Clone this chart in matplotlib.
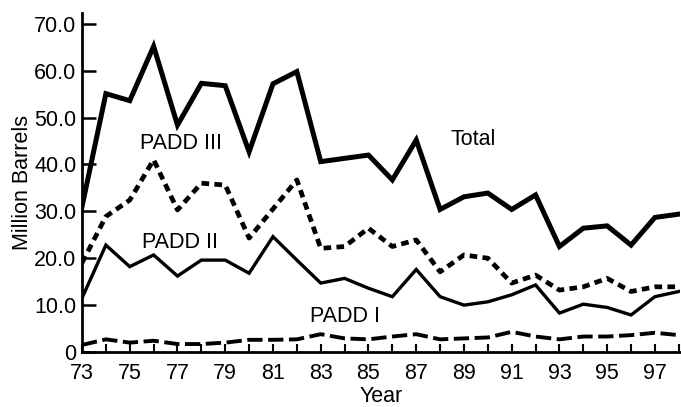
import matplotlib
matplotlib.use("Agg")
import matplotlib.pyplot as plt

plt.rcParams['font.family'] = ['Liberation Sans', 'DejaVu Sans']
plt.rcParams['lines.scale_dashes'] = False

years = list(range(1973, 1999))
total = [31.0, 55.1, 53.6, 65.2, 48.4, 57.3, 56.8, 42.7, 57.2, 59.8,
         40.6, 41.3, 42.0, 36.7, 45.2, 30.4, 33.1, 33.9, 30.4, 33.5,
         22.5, 26.4, 26.9, 22.8, 28.7, 29.4]
padd3 = [19.0, 28.9, 32.4, 41.0, 30.3, 36.0, 35.6, 24.3, 30.5, 36.7,
         22.1, 22.5, 26.4, 22.5, 23.9, 17.1, 20.7, 20.0, 14.7, 16.4,
         13.2, 13.9, 15.7, 12.9, 13.9, 13.9]
padd2 = [11.5, 22.8, 18.2, 20.7, 16.2, 19.6, 19.6, 16.8, 24.6, 19.6,
         14.7, 15.7, 13.6, 11.8, 17.6, 11.8, 10.0, 10.7, 12.2, 14.3,
         8.3, 10.2, 9.5, 7.9, 11.8, 12.9]
padd1 = [1.5, 2.7, 2.0, 2.4, 1.7, 1.7, 2.0, 2.6, 2.6, 2.7,
         3.8, 2.9, 2.7, 3.3, 3.8, 2.7, 2.9, 3.1, 4.3, 3.3,
         2.7, 3.3, 3.3, 3.6, 4.1, 3.6]

yticks = [0, 10, 20, 30, 40, 50, 60, 70]
ytick_labels = ["0", "10.0", "20.0", "30.0", "40.0", "50.0", "60.0", "70.0"]
xticks = list(range(1973, 1999, 2))
xtick_labels = ["73", "75", "77", "79", "81", "83", "85", "87", "89", "91", "93", "95", "97"]

FS = 15.5

fig = plt.figure(figsize=(6.81, 4.07), dpi=100)
ax = fig.add_axes([82/681, 55/407, 598/681, 339/407])

ax.plot(years, total, color='black', lw=3.6, solid_joinstyle='miter')
ax.plot(years, padd3, color='black', lw=3.4, linestyle=(0, (5.5, 3.8)), dash_capstyle='butt')
ax.plot(years, padd2, color='black', lw=2.4, solid_joinstyle='miter')
ax.plot(years, padd1, color='black', lw=2.8, linestyle=(0, (11, 4)), dash_capstyle='butt')

ax.set_xlim(1973, 1998.05)
ax.set_ylim(0, 72.3)

for s in ['top', 'right']:
    ax.spines[s].set_visible(False)
for s in ['left', 'bottom']:
    ax.spines[s].set_linewidth(2.0)

ax.set_yticks(yticks)
ax.set_yticklabels(ytick_labels)
ax.set_xticks(xticks)
ax.set_xticklabels(xtick_labels)
ax.set_xticks(years, minor=True)
ax.tick_params(axis='y', direction='in', length=10, width=1.8, pad=4, labelsize=FS)
ax.tick_params(axis='x', which='major', direction='in', length=6, width=1.5, pad=8, labelsize=FS)
ax.tick_params(axis='x', which='minor', direction='in', length=6, width=1.5)

ax.set_xlabel("Year", fontsize=FS, labelpad=1)
ax.set_ylabel("Million Barrels", fontsize=FS, labelpad=1)

ax.text(1977.16, 44.4, "PADD III", fontsize=FS, ha='center', va='center')
ax.text(1989.39, 45.3, "Total", fontsize=FS, ha='center', va='center')
ax.text(1977.12, 23.3, "PADD II", fontsize=FS, ha='center', va='center')
ax.text(1984.0, 7.6, "PADD I", fontsize=FS, ha='center', va='center')

fig.savefig("out.png", dpi=100)
